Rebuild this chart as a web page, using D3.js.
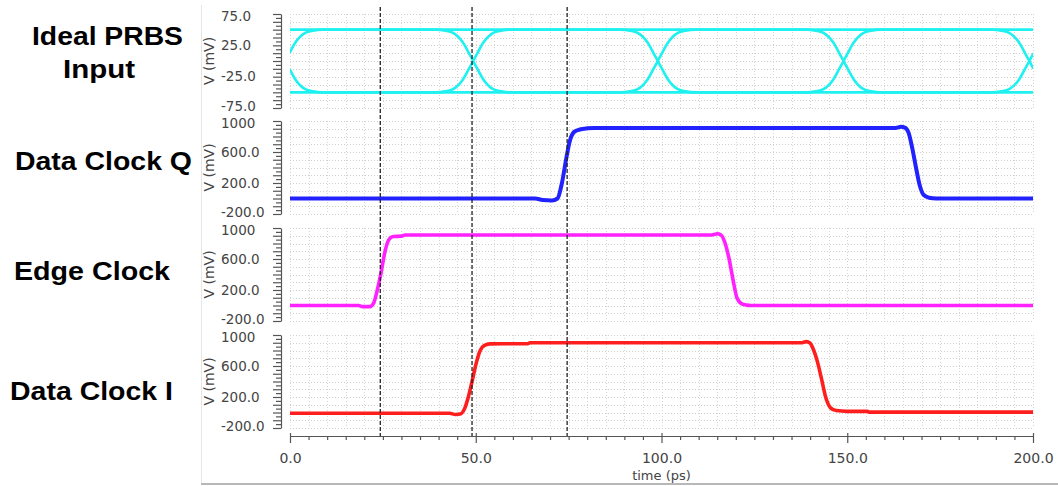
<!DOCTYPE html>
<html>
<head>
<meta charset="utf-8">
<script src="https://cdn.jsdelivr.net/npm/d3@7"></script>
<style>
  body { margin: 0; background: #fff; }
  svg { display: block; }
</style>
</head>
<body>
<svg id="chart" width="1058" height="486"></svg>
<script>
// ---- data -------------------------------------------------------------
const timeTicks = [0, 50, 100, 150, 200];
const timeTickLabels = ["0.0", "50.0", "100.0", "150.0", "200.0"];
const markerTimes = [24.3, 49.0, 74.6];          // vertical cursors (ps)

const prbsTicks = [75, 25, -25, -75];
const prbsTickLabels = ["75.0", "25.0", "-25.0", "-75.0"];
const clockTicks = [1000, 600, 200, -200];
const clockTickLabels = ["1000", "600.0", "200.0", "-200.0"];

// eye diagram of the PRBS input (time ps, mV)
const prbsHigh = [[0, 50], [200, 50]];
const prbsLow = [[0, -50], [200, -50]];
const prbsEyeA = [
  [0, 14], [1.4, 29], [4.1, 45], [6.2, 48.5], [8.7, 50],
  [39.3, 50], [41.8, 48.5], [43.9, 45], [46.6, 29], [48.3, 11], [49.3, 0], [50.3, -11], [52, -29], [54.7, -45], [56.8, -48.5], [59.3, -50],
  [89, -50], [91.5, -48.5], [93.6, -45], [96.3, -29], [98, -11], [99, 0], [100, 11], [101.7, 29], [104.4, 45], [106.5, 48.5], [109, 50],
  [139, 50], [141.5, 48.5], [143.6, 45], [146.3, 29], [148, 11], [149, 0], [150, -11], [151.7, -29], [154.4, -45], [156.5, -48.5], [159, -50],
  [189, -50], [191.5, -48.5], [193.6, -45], [196.3, -29], [198, -11], [199, 0], [200, 11]
];
const prbsEyeB = [
  [0, -14], [1.4, -29], [4.1, -45], [6.2, -48.5], [8.7, -50],
  [39.3, -50], [41.8, -48.5], [43.9, -45], [46.6, -29], [48.3, -11], [49.3, 0], [50.3, 11], [52, 29], [54.7, 45], [56.8, 48.5], [59.3, 50],
  [89, 50], [91.5, 48.5], [93.6, 45], [96.3, 29], [98, 11], [99, 0], [100, -11], [101.7, -29], [104.4, -45], [106.5, -48.5], [109, -50],
  [139, -50], [141.5, -48.5], [143.6, -45], [146.3, -29], [148, -11], [149, 0], [150, 11], [151.7, 29], [154.4, 45], [156.5, 48.5], [159, 50],
  [189, 50], [191.5, 48.5], [193.6, 45], [196.3, 29], [198, 11], [199, 0], [200, -11]
];

// recovered clocks (time ps, mV)
const clockQ = [
  [0, 0], [66, 0], [68, -20], [70.5, -25], [72, 0], [73.2, 200], [74.3, 500], [75.3, 740],
  [76.5, 860], [78, 890], [80, 905], [82, 910], [163, 910], [164.5, 925], [165.5, 915],
  [166.5, 850], [167.5, 650], [168.5, 400], [169.5, 170], [170.5, 50], [172, 10], [174, 0], [200, 0]
];
const clockEdge = [
  [0, 0], [18.5, 0], [19.5, -15], [21.5, -15], [22.5, 30], [23.5, 200], [24.5, 420], [25.5, 680],
  [26.5, 840], [27.8, 890], [30, 895], [31, 910], [113.5, 910], [115, 925], [116, 910],
  [117, 820], [118.2, 600], [119.3, 320], [120.3, 100], [121.5, 25], [123, 5], [124, 0], [200, 0]
];
const clockI = [
  [0, -10], [43, -10], [44.5, -25], [45.8, -20], [47, 50], [48, 200], [49, 400], [50.2, 650],
  [51.2, 800], [52.5, 870], [54, 885], [64, 888], [64.6, 900], [137.5, 900], [139, 915],
  [140, 895], [141, 800], [142, 650], [143, 450], [144.3, 180], [145.5, 60], [147, 25],
  [150, 15], [155.5, 15], [155.8, 5], [200, 5]
];

// ---- layout -----------------------------------------------------------
const svg = d3.select("#chart");
const x = d3.scaleLinear().domain([0, 200]).range([290, 1033]);
const axisY = 436;

const panels = [
  { top: 14, bottom: 108, domain: [-75, 75], ticks: prbsTicks, labels: prbsTickLabels, grid: 12.5, minor: 6.25,
    series: [
      { data: prbsHigh, color: "#1ff0f0", width: 2.6 },
      { data: prbsLow, color: "#1ff0f0", width: 2.6 },
      { data: prbsEyeA, color: "#1ff0f0", width: 2.6 },
      { data: prbsEyeB, color: "#1ff0f0", width: 2.6 }
    ],
    title: [{ text: "Ideal PRBS", x: 32, y: 45, len: 151 }, { text: "Input", x: 63, y: 78, len: 72 }] },
  { top: 121, bottom: 214, domain: [-200, 1000], ticks: clockTicks, labels: clockTickLabels, grid: 100, minor: 50,
    series: [{ data: clockQ, color: "#2222ff", width: 4 }],
    title: [{ text: "Data Clock Q", x: 15, y: 170, len: 177 }] },
  { top: 228, bottom: 321, domain: [-200, 1000], ticks: clockTicks, labels: clockTickLabels, grid: 100, minor: 50,
    series: [{ data: clockEdge, color: "#ff22ff", width: 3.6 }],
    title: [{ text: "Edge Clock", x: 14, y: 280, len: 156 }] },
  { top: 335, bottom: 428, domain: [-200, 1000], ticks: clockTicks, labels: clockTickLabels, grid: 100, minor: 50,
    series: [{ data: clockI, color: "#ff1e1e", width: 3.6 }],
    title: [{ text: "Data Clock I", x: 10, y: 400, len: 163 }] }
];

// window frame
svg.append("line").attr("x1", 201.5).attr("x2", 201.5).attr("y1", 5).attr("y2", 484)
  .attr("stroke", "#e6e6e6").attr("stroke-width", 1);
svg.append("line").attr("x1", 201).attr("x2", 1058).attr("y1", 484).attr("y2", 484)
  .attr("stroke", "#b8b8b8").attr("stroke-width", 2);

panels.forEach(p => {
  const y = d3.scaleLinear().domain(p.domain).range([p.bottom, p.top]);
  const g = svg.append("g");

  // dotted grid
  const gridY = d3.range(p.domain[0], p.domain[1] + 0.001, p.grid);
  const gridX = d3.range(0, 200.001, 5);
  g.append("g").selectAll("line").data(gridY).join("line")
    .attr("x1", x(0)).attr("x2", x(200))
    .attr("y1", d => Math.round(y(d)) + 0.5).attr("y2", d => Math.round(y(d)) + 0.5)
    .attr("stroke", "#cfcfcf").attr("stroke-width", 1).attr("stroke-dasharray", "1,2");
  g.append("g").selectAll("line").data(gridX).join("line")
    .attr("y1", p.top).attr("y2", p.bottom)
    .attr("x1", d => Math.round(x(d)) + 0.5).attr("x2", d => Math.round(x(d)) + 0.5)
    .attr("stroke", "#d6d6d6").attr("stroke-width", 1).attr("stroke-dasharray", "1,2");

  // ruler-style left axis
  const minorVals = d3.range(p.domain[0], p.domain[1] + 0.001, p.minor);
  const ruler = g.append("g").attr("transform", "translate(281,0)")
    .call(d3.axisLeft(y).tickValues(minorVals).tickSizeOuter(0).tickFormat(""));
  ruler.selectAll(".tick line")
    .attr("x2", d => (Math.abs((d - p.domain[0]) / p.grid - Math.round((d - p.domain[0]) / p.grid)) < 1e-6) ? -8 : -5);
  ruler.selectAll("line, path").attr("stroke", "#555").attr("stroke-width", 1.2);

  // tick labels (end labels pulled slightly inward so neighbouring panels stay apart)
  const lab = g.append("g").attr("transform", "translate(221,0)")
    .call(d3.axisLeft(y).tickValues(p.ticks).tickSize(0).tickFormat((d, i) => p.labels[i]));
  lab.select(".domain").remove();
  lab.selectAll("text")
    .attr("x", 0).attr("text-anchor", "start")
    .attr("dy", (d, i) => i === 0 ? "0.5em" : (i === p.ticks.length - 1 ? "0.18em" : "0.32em"))
    .attr("font-family", "DejaVu Sans, sans-serif").attr("font-size", 13.5).attr("fill", "#444");

  // y label
  svg.append("text")
    .attr("transform", `translate(214,${(p.top + p.bottom) / 2}) rotate(-90)`)
    .attr("text-anchor", "middle")
    .attr("font-family", "DejaVu Sans, sans-serif").attr("font-size", 14).attr("fill", "#444")
    .text("V (mV)");

  // traces
  const line = d3.line().x(d => x(d[0])).y(d => y(d[1])).curve(d3.curveMonotoneX);
  const clip = "clip" + p.top;
  svg.append("clipPath").attr("id", clip).append("rect")
    .attr("x", x(0)).attr("y", p.top - 6).attr("width", x(200) - x(0)).attr("height", p.bottom - p.top + 12);
  g.append("g").attr("clip-path", `url(#${clip})`)
    .selectAll("path").data(p.series).join("path")
    .attr("d", s => line(s.data))
    .attr("fill", "none").attr("stroke", s => s.color).attr("stroke-width", s => s.width)
    .attr("stroke-linejoin", "round").attr("stroke-linecap", "round");

  // panel title
  p.title.forEach(t => {
    svg.append("text").attr("x", t.x).attr("y", t.y)
      .attr("font-family", "Liberation Sans, Arial, sans-serif").attr("font-weight", "bold")
      .attr("font-size", 25).attr("fill", "#000")
      .attr("textLength", t.len).attr("lengthAdjust", "spacingAndGlyphs")
      .text(t.text);
  });
});

// time axis
const xAxisG = svg.append("g").attr("transform", `translate(0,${axisY})`)
  .call(d3.axisBottom(x).tickValues(d3.range(0, 200.001, 5)).tickSizeOuter(0).tickFormat(""));
xAxisG.selectAll(".tick line")
  .attr("y1", d => timeTicks.includes(d) ? -3 : 0)
  .attr("y2", d => timeTicks.includes(d) ? 7 : 4);
xAxisG.selectAll("line, path").attr("stroke", "#555").attr("stroke-width", 1.2);

const xLab = svg.append("g").attr("transform", `translate(0,${axisY})`)
  .call(d3.axisBottom(x).tickValues(timeTicks).tickSize(0).tickFormat((d, i) => timeTickLabels[i]));
xLab.select(".domain").remove();
xLab.selectAll("text").attr("y", 27).attr("dy", 0)
  .attr("font-family", "DejaVu Sans, sans-serif").attr("font-size", 14).attr("fill", "#444");

svg.append("text").attr("x", x(100)).attr("y", 480).attr("text-anchor", "middle")
  .attr("font-family", "DejaVu Sans, sans-serif").attr("font-size", 13).attr("fill", "#444")
  .text("time (ps)");

// vertical dashed cursors
svg.append("g").selectAll("line").data(markerTimes).join("line")
  .attr("x1", d => x(d)).attr("x2", d => x(d)).attr("y1", 7).attr("y2", axisY)
  .attr("stroke", "#222").attr("stroke-width", 1.3).attr("stroke-dasharray", "4,2");
</script>
</body>
</html>
